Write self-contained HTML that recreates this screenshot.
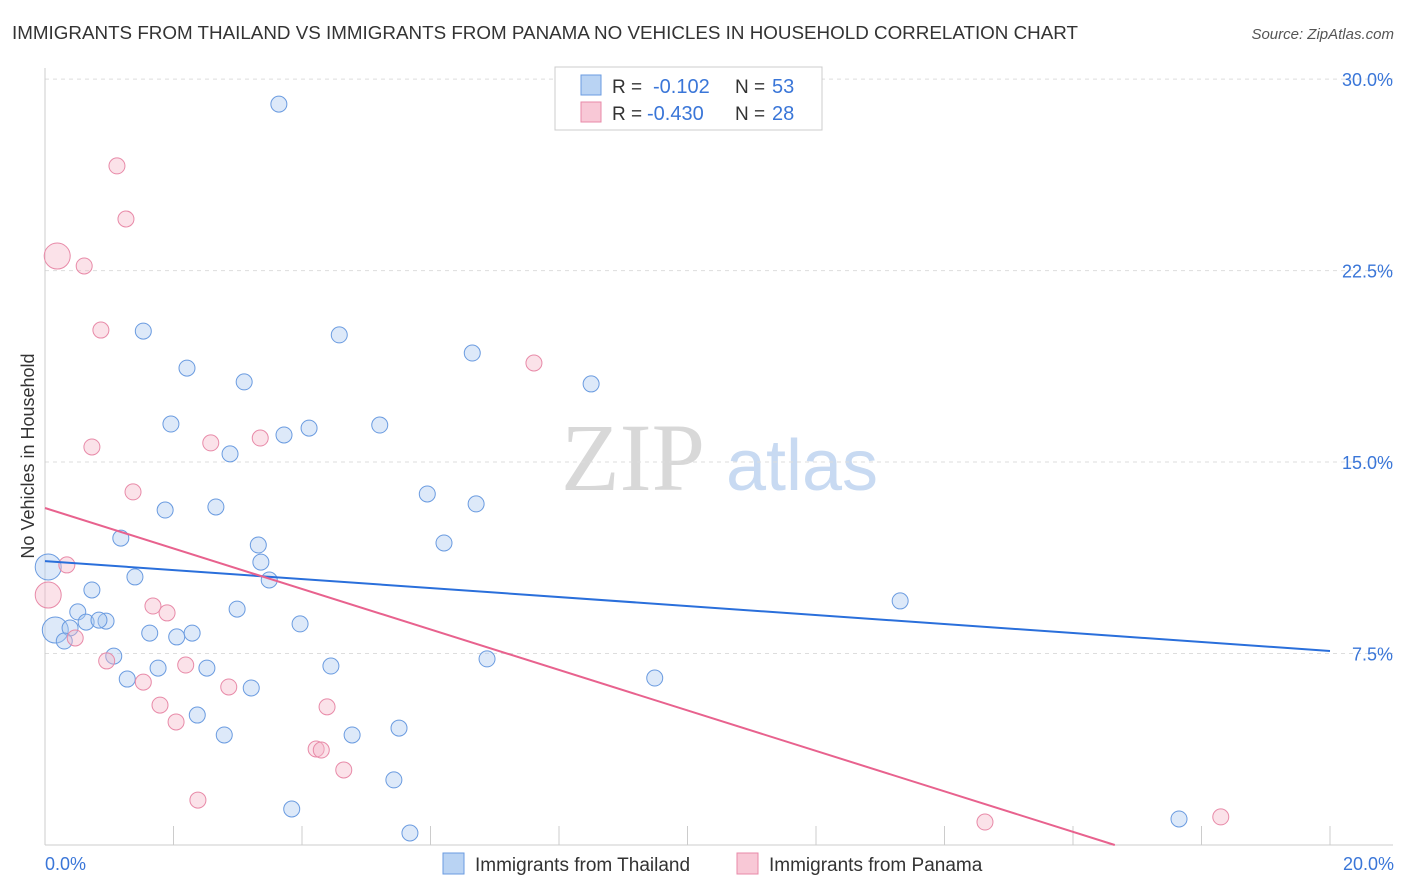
<!DOCTYPE html>
<html><head><meta charset="utf-8">
<style>
body{margin:0;background:#fff;font-family:"Liberation Sans",sans-serif;}
svg{display:block}
</style></head>
<body>
<svg id="c" width="1406" height="892">
<text x="12" y="39" font-size="18" fill="#333" textLength="1066" lengthAdjust="spacingAndGlyphs">IMMIGRANTS FROM THAILAND VS IMMIGRANTS FROM PANAMA NO VEHICLES IN HOUSEHOLD CORRELATION CHART</text>
<text x="1394" y="39" font-size="15" fill="#555" font-style="italic" text-anchor="end">Source: ZipAtlas.com</text>
<text transform="translate(34,456) rotate(-90)" font-size="18" fill="#333" text-anchor="middle">No Vehicles in Household</text>
<g>
<text x="633" y="490" font-size="96" font-family="Liberation Serif,serif" fill="#d8d8d8" text-anchor="middle">ZIP</text>
<text x="802" y="490" font-size="72" fill="#c8daf2" text-anchor="middle">atlas</text>
</g>
<g id="grid"></g>
<g id="axes"></g>
<g id="pts"></g>
<g id="trends"></g>
<g>
<rect x="555" y="67" width="267" height="63" fill="#fff" stroke="#ccc"/>
<rect x="581" y="75" width="20" height="20" fill="#b9d3f3" stroke="#6a9be0"/>
<text x="612" y="93" font-size="19" fill="#333">R = </text><text x="653" y="93" font-size="20" fill="#3a76d8">-0.102</text>
<text x="735" y="93" font-size="19" fill="#333">N = </text><text x="772" y="93" font-size="20" fill="#3a76d8">53</text>
<rect x="581" y="102" width="20" height="20" fill="#f8c8d6" stroke="#e88aa8"/>
<text x="612" y="120" font-size="19" fill="#333">R = </text><text x="647" y="120" font-size="20" fill="#3a76d8">-0.430</text>
<text x="735" y="120" font-size="19" fill="#333">N = </text><text x="772" y="120" font-size="20" fill="#3a76d8">28</text>
</g>
<g>
<rect x="443" y="853" width="21" height="21" fill="#b9d3f3" stroke="#6a9be0"/>
<text x="475" y="871" font-size="19" fill="#333">Immigrants from Thailand</text>
<rect x="737" y="853" width="21" height="21" fill="#f8c8d6" stroke="#e88aa8"/>
<text x="769" y="871" font-size="19" fill="#333">Immigrants from Panama</text>
</g>
</svg>
<script>
const yTicks=[7.5,15,22.5,30];
const yTickLabels=["7.5%","15.0%","22.5%","30.0%"];
const xTicks=[0,2,4,6,8,10,12,14,16,18,20];
const blueX=[3.64,1.53,4.58,2.21,3.10,6.65,8.50,1.96,4.11,5.21,3.72,2.88,5.95,6.71,1.87,2.66,1.18,6.21,3.32,3.36,1.40,3.49,0.73,0.05,0.51,2.99,13.31,0.64,0.95,0.84,3.97,0.16,0.39,1.63,2.05,2.29,0.30,1.07,1.76,2.52,4.45,6.88,1.28,3.21,9.49,2.37,2.79,4.78,5.51,5.43,3.84,5.68,17.65];
const blueY=[29.02,20.13,19.98,18.68,18.14,19.27,18.06,16.49,16.33,16.45,16.06,15.32,13.75,13.36,13.12,13.24,12.02,11.83,11.75,11.08,10.50,10.38,9.99,10.89,9.13,9.24,9.56,8.73,8.77,8.81,8.66,8.42,8.50,8.30,8.15,8.30,7.99,7.40,6.93,6.93,7.01,7.29,6.50,6.15,6.54,5.09,4.31,4.31,4.58,2.55,1.41,0.47,1.02];
const blueBig=[23,31];
const pinkX=[1.12,1.26,0.19,0.61,0.87,7.61,0.73,2.58,3.35,1.37,0.34,0.05,1.68,1.90,0.47,0.96,2.19,1.53,2.86,1.79,2.04,4.39,4.22,4.30,4.65,2.38,14.63,18.30];
const pinkY=[26.60,24.52,23.07,22.68,20.17,18.88,15.59,15.75,15.94,13.83,10.97,9.79,9.36,9.09,8.11,7.21,7.05,6.38,6.19,5.48,4.82,5.41,3.76,3.72,2.94,1.76,0.90,1.10];
const pinkBig=[2,11];
const blueTrend=[11.12,7.6];
const pinkTrend=[13.2,0];
const pinkTrendEndX=16.65;

const NS="http://www.w3.org/2000/svg";
const X=v=>45+v*64.25, Y=v=>845-v*25.53;
function mk(tag,attrs,parent){const e=document.createElementNS(NS,tag);for(const k in attrs)e.setAttribute(k,attrs[k]);parent.appendChild(e);return e;}
const grid=document.getElementById('grid'),axes=document.getElementById('axes'),pts=document.getElementById('pts'),tr=document.getElementById('trends');
yTicks.forEach((t,i)=>{
 const l=mk('line',{x1:45,x2:1393,y1:Y(t),y2:Y(t),stroke:'#ddd','stroke-dasharray':'4,4'},grid);
 
 
 const tx=mk('text',{x:1393,y:Y(t)+7,'font-size':18,fill:'#3a76d8','text-anchor':'end'},axes);
 tx.textContent=yTickLabels[i];
 
 
});
const ax=mk('line',{x1:45,x2:1393,y1:845,y2:845,stroke:'#ccc'},axes);


const ay=mk('line',{x1:45,x2:45,y1:68,y2:845,stroke:'#ccc'},axes);


xTicks.forEach(t=>{
 const l=mk('line',{x1:X(t),x2:X(t),y1:826,y2:845,stroke:'#ccc'},axes);
 
 
});
const xl0=mk('text',{x:45,y:870,'font-size':18,fill:'#3a76d8'},axes);xl0.textContent='0.0%';


const xl1=mk('text',{x:1394,y:870,'font-size':18,fill:'#3a76d8','text-anchor':'end'},axes);xl1.textContent='20.0%';


blueX.forEach((x,i)=>{
 const c=mk('circle',{cx:X(x),cy:Y(blueY[i]),r:blueBig.includes(i)?13:8,fill:'rgba(169,200,240,0.4)',stroke:'#6a9be0','stroke-width':1},pts);
 
 
});
pinkX.forEach((x,i)=>{
 const c=mk('circle',{cx:X(x),cy:Y(pinkY[i]),r:pinkBig.includes(i)?13:8,fill:'rgba(245,182,200,0.4)',stroke:'#e88aa8','stroke-width':1},pts);
 
 
});
const bt=mk('line',{x1:X(0),y1:Y(blueTrend[0]),x2:X(20),y2:Y(blueTrend[1]),stroke:'#2a6fdb','stroke-width':2},tr);


const pt=mk('line',{x1:X(0),y1:Y(pinkTrend[0]),x2:X(pinkTrendEndX),y2:Y(pinkTrend[1]),stroke:'#e8628e','stroke-width':2},tr);


</script>
</body></html>
